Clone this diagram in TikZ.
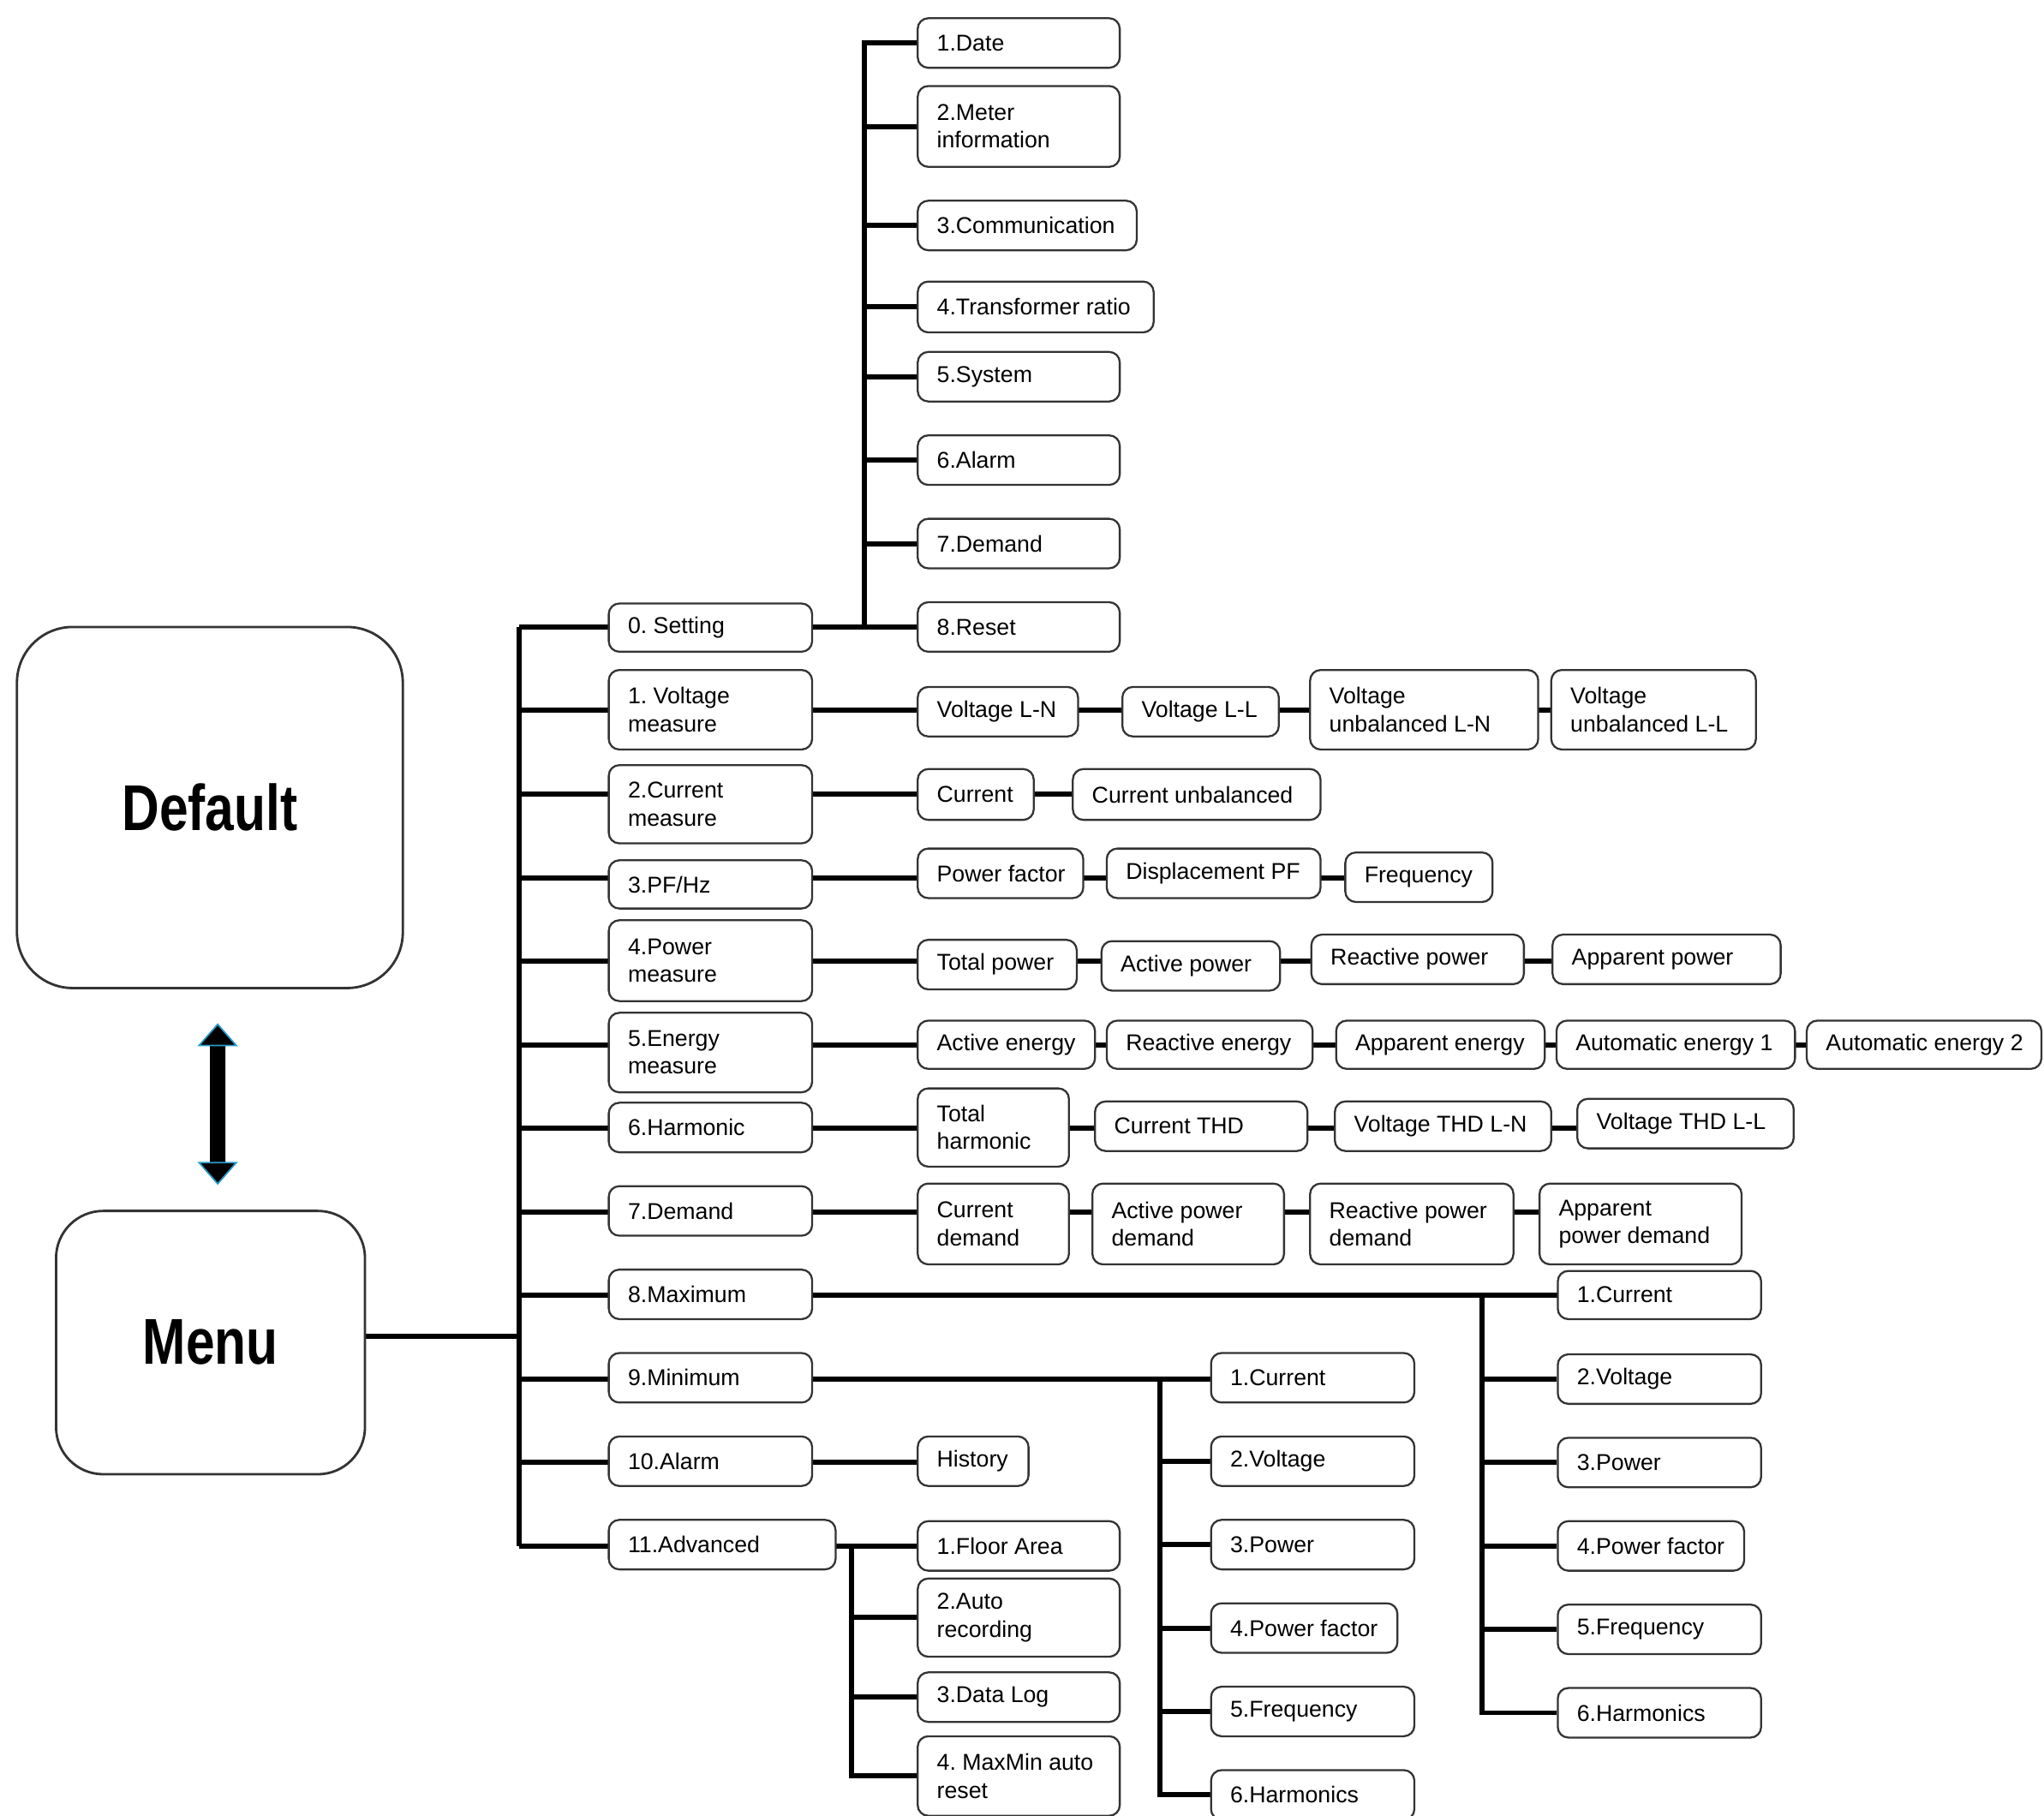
\documentclass[tikz,border=0pt]{standalone}
\usepackage{fontspec}
\setmainfont{Liberation Sans}
\newfontfamily\headfont[FakeStretch=0.8]{Liberation Sans}
\usepackage{tikz}
\usetikzlibrary{arrows.meta,backgrounds}
\frenchspacing

\def\pxu{0.015217cm}
% box at left,top,right,bottom with its label set flush left
\newcommand{\menuitem}[6]{%
  \node[itembox, minimum width={(#4-#2)*\pxu}, minimum height={(#5-#3)*\pxu}] (#1) at ({(#2+#4)/2},{(#3+#5)/2}) {};
  \node[itemtext] (#1-t) at ([xshift=15*\pxu]#1.west) {#6};}

\begin{document}
\begin{tikzpicture}[x=\pxu, y=-\pxu,
    itembox/.style={draw=black!80, line width=0.65pt, rounded corners=3.5pt, fill=white, inner sep=0pt},
    itemtext/.style={anchor=west, align=left, inner sep=0pt, font=\fontsize{7.6}{9.2}\selectfont},
    bigbox/.style={draw=black!80, line width=0.8pt, fill=white, inner sep=0pt, font=\headfont\bfseries\fontsize{21.5}{24}\selectfont},
    wire/.style={line width=1.7pt},
    twoway/.style={line width=0.18cm, <->, >={Triangle[width=0.47cm,length=0.27cm,fill=black,color=cyan!60!teal,line width=0.5pt]}}]
\useasboundingbox (0,0) rectangle (1568,1393);

\node[bigbox, rounded corners=0.65cm, minimum width=296*\pxu, minimum height=277*\pxu] (dflt) at (161,619.5) {Default};
\node[bigbox, rounded corners=0.55cm, minimum width=237*\pxu, minimum height=202*\pxu] (menu) at (161.5,1030) {Menu};
\draw[twoway, shorten <=26*\pxu, shorten >=19*\pxu] ([xshift=6*\pxu]dflt.south) -- ([xshift=5.5*\pxu]menu.north);

% main menu
\menuitem{m0}{467}{463}{623}{500}{0. Setting}
\menuitem{m1}{467}{514}{623}{575}{1. Voltage\\measure}
\menuitem{m2}{467}{587}{623}{647}{2.Current\\measure}
\menuitem{m3}{467}{660}{623}{697}{3.PF/Hz}
\menuitem{m4}{467}{706}{623}{768}{4.Power\\measure}
\menuitem{m5}{467}{777}{623}{838}{5.Energy\\measure}
\menuitem{m6}{467}{846}{623}{884}{6.Harmonic}
\menuitem{m7}{467}{910}{623}{948}{7.Demand}
\menuitem{m8}{467}{974}{623}{1012}{8.Maximum}
\menuitem{m9}{467}{1038}{623}{1076}{9.Minimum}
\menuitem{m10}{467}{1102}{623}{1140}{10.Alarm}
\menuitem{m11}{467}{1166}{641}{1204}{11.Advanced}

% setting
\menuitem{s1}{704}{14}{859}{52}{1.Date}
\menuitem{s2}{704}{66}{859}{128}{2.Meter\\information}
\menuitem{s3}{704}{154}{872}{192}{3.Communication}
\menuitem{s4}{704}{216}{885}{255}{4.Transformer ratio}
\menuitem{s5}{704}{270}{859}{308}{5.System}
\menuitem{s6}{704}{334}{859}{372}{6.Alarm}
\menuitem{s7}{704}{398}{859}{436}{7.Demand}
\menuitem{s8}{704}{462}{859}{500}{8.Reset}

% measure rows
\menuitem{vo1}{704}{527}{827}{565}{Voltage L-N}
\menuitem{vo2}{861}{527}{981}{565}{Voltage L-L}
\menuitem{vo3}{1005}{514}{1180}{575}{Voltage\\unbalanced L-N}
\menuitem{vo4}{1190}{514}{1347}{575}{Voltage\\unbalanced L-L}
\menuitem{cu1}{704}{590}{793}{629}{Current}
\menuitem{cu2}{823}{590}{1013}{629}{Current unbalanced}
\menuitem{pf1}{704}{651}{831}{689}{Power factor}
\menuitem{pf2}{849}{651}{1013}{689}{Displacement PF}
\menuitem{pf3}{1032}{654}{1145}{692}{Frequency}
\menuitem{pw1}{704}{721}{826}{759}{Total power}
\menuitem{pw2}{845}{722}{982}{760}{Active power}
\menuitem{pw3}{1006}{717}{1169}{755}{Reactive power}
\menuitem{pw4}{1191}{717}{1366}{755}{Apparent power}
\menuitem{en1}{704}{783}{840}{820}{Active energy}
\menuitem{en2}{849}{783}{1007}{820}{Reactive energy}
\menuitem{en3}{1025}{783}{1185}{820}{Apparent energy}
\menuitem{en4}{1194}{783}{1377}{820}{Automatic energy 1}
\menuitem{en5}{1386}{783}{1566}{820}{Automatic energy 2}
\menuitem{hm1}{704}{835}{820}{895}{Total\\harmonic}
\menuitem{hm2}{840}{845}{1003}{883}{Current THD}
\menuitem{hm3}{1024}{845}{1190}{883}{Voltage THD L-N}
\menuitem{hm4}{1210}{843}{1376}{881}{Voltage THD L-L}
\menuitem{dm1}{704}{908}{820}{970}{Current\\demand}
\menuitem{dm2}{838}{908}{985}{970}{Active power\\demand}
\menuitem{dm3}{1005}{908}{1161}{970}{Reactive power\\demand}
\menuitem{dm4}{1181}{908}{1336}{970}{Apparent\\power demand}

% maximum
\menuitem{x1}{1195}{975}{1351}{1012}{1.Current}
\menuitem{x2}{1195}{1039}{1351}{1077}{2.Voltage}
\menuitem{x3}{1195}{1103}{1351}{1141}{3.Power}
\menuitem{x4}{1195}{1167}{1338}{1205}{4.Power factor}
\menuitem{x5}{1195}{1231}{1351}{1269}{5.Frequency}
\menuitem{x6}{1195}{1295}{1351}{1333}{6.Harmonics}

% minimum
\menuitem{n1}{929}{1038}{1085}{1076}{1.Current}
\menuitem{n2}{929}{1102}{1085}{1140}{2.Voltage}
\menuitem{n3}{929}{1166}{1085}{1204}{3.Power}
\menuitem{n4}{929}{1230}{1072}{1268}{4.Power factor}
\menuitem{n5}{929}{1294}{1085}{1332}{5.Frequency}
\menuitem{n6}{929}{1358}{1085}{1396}{6.Harmonics}

% alarm, advanced
\menuitem{hist}{704}{1102}{789}{1140}{History}
\menuitem{a1}{704}{1167}{859}{1205}{1.Floor Area}
\menuitem{a2}{704}{1211}{859}{1271}{2.Auto\\recording}
\menuitem{a3}{704}{1283}{859}{1321}{3.Data Log}
\menuitem{a4}{704}{1332}{859}{1393}{4. MaxMin auto\\reset}

\foreach \k in {0,...,11}
  \coordinate (r\k) at (398,{481+64.1*\k});
\coordinate (mj) at (280,1025);
\coordinate (sb) at (663,481);
\coordinate (xb) at (1137,994);
\coordinate (nb) at (890,1058);
\coordinate (ab) at (653,1186);

\begin{scope}[on background layer]
\draw[wire] (mj) -- (mj -| r0);
\draw[wire] (r0) -- (r11);
\foreach \k in {0,...,11}
  \draw[wire] (r\k) -- (r\k -| m\k);
\draw[wire] (r0) -- (r0 -| s8);
\draw[wire] (sb) -- (sb |- s1) -- (s1);
\foreach \n in {s2,s3,s4,s5,s6,s7}
  \draw[wire] (sb |- \n) -- (\n);
\draw[wire] (r1) -- (r1 -| vo4);
\draw[wire] (r2) -- (r2 -| cu2);
\draw[wire] (r3) -- (r3 -| pf3);
\draw[wire] (r4) -- (r4 -| pw4);
\draw[wire] (r5) -- (r5 -| en5);
\draw[wire] (r6) -- (r6 -| hm4);
\draw[wire] (r7) -- (r7 -| dm4);
\draw[wire] (r8) -- (r8 -| x1);
\draw[wire] (xb) -- (xb |- x6) -- (x6);
\foreach \n in {x2,x3,x4,x5}
  \draw[wire] (xb |- \n) -- (\n);
\draw[wire] (r9) -- (r9 -| n1);
\draw[wire] (nb) -- (nb |- n6) -- (n6);
\foreach \n in {n2,n3,n4,n5}
  \draw[wire] (nb |- \n) -- (\n);
\draw[wire] (r10) -- (r10 -| hist);
\draw[wire] (r11) -- (r11 -| a1);
\draw[wire] (ab) -- (ab |- a4) -- (a4);
\foreach \n in {a2,a3}
  \draw[wire] (ab |- \n) -- (\n);
\end{scope}
\end{tikzpicture}
\end{document}
